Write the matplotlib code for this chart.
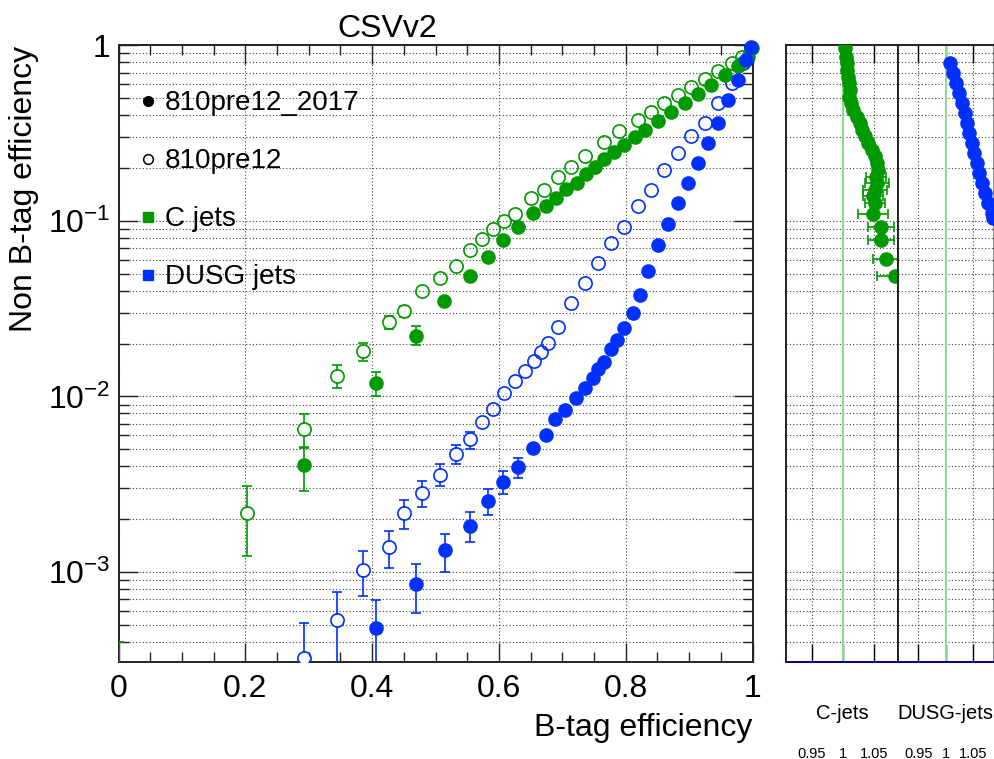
import matplotlib
matplotlib.use("Agg")
import matplotlib.pyplot as plt
from matplotlib.lines import Line2D
from matplotlib.ticker import FixedLocator, LogLocator, NullFormatter
import numpy as np

plt.rcParams['font.family'] = ['Liberation Sans', 'DejaVu Sans']
plt.rcParams['mathtext.fontset'] = 'custom'
plt.rcParams['mathtext.rm'] = 'Liberation Sans'
plt.rcParams['mathtext.it'] = 'Liberation Sans:italic'
plt.rcParams['mathtext.bf'] = 'Liberation Sans:bold'

GREEN = '#009900'
BLUE = '#0030ff'
nan = np.nan

# --- ROC curves: b-tag efficiency vs mistag efficiency ---
# C jets, 810pre12 (open)
c_old_x = [0.0, 0.2025, 0.293, 0.345, 0.385, 0.426, 0.451, 0.479, 0.507, 0.532, 0.554,
           0.573, 0.590, 0.608, 0.626, 0.650, 0.671, 0.693, 0.714, 0.735, 0.766, 0.790,
           0.819, 0.840, 0.861, 0.882, 0.903, 0.925, 0.946, 0.967, 0.983, 0.998]
c_old_y = [2.0e-4, 2.18e-3, 6.5e-3, 1.31e-2, 1.82e-2, 2.64e-2, 3.08e-2, 4.0e-2, 4.72e-2,
           5.55e-2, 6.8e-2, 7.87e-2, 8.98e-2, 0.100, 0.109, 0.135, 0.150, 0.179, 0.204,
           0.233, 0.280, 0.325, 0.378, 0.42, 0.468, 0.522, 0.580, 0.645, 0.715, 0.79,
           0.86, 0.98]
c_old_lo = [1e-5, 1.24e-3, 5.15e-3, 1.117e-2, 1.60e-2, 2.42e-2, 2.83e-2] + [nan] * 25
c_old_hi = [4.0e-4, 3.11e-3, 7.9e-3, 1.514e-2, 2.01e-2, 2.86e-2, 3.29e-2] + [nan] * 25

# C jets, 810pre12_2017 (filled)
c_new_x = [0.293, 0.406, 0.470, 0.513, 0.554, 0.583, 0.607, 0.630, 0.654, 0.675, 0.690,
           0.706, 0.723, 0.737, 0.751, 0.766, 0.782, 0.798, 0.814, 0.830, 0.851, 0.872,
           0.893, 0.914, 0.935, 0.956, 0.977, 0.993, 0.999]
c_new_y = [4.08e-3, 1.2e-2, 2.2e-2, 3.48e-2, 4.87e-2, 6.2e-2, 7.8e-2, 9.2e-2, 0.111, 0.122,
           0.135, 0.152, 0.164, 0.185, 0.204, 0.225, 0.248, 0.272, 0.30, 0.33, 0.372,
           0.42, 0.472, 0.53, 0.598, 0.675, 0.765, 0.865, 0.964]
c_new_lo = [2.88e-3, 1.01e-2, 1.97e-2] + [nan] * 26
c_new_hi = [5.08e-3, 1.38e-2, 2.51e-2] + [nan] * 26

# DUSG jets, 810pre12 (open)
l_old_x = [0.293, 0.345, 0.385, 0.426, 0.451, 0.479, 0.507, 0.532, 0.554, 0.573, 0.590,
           0.608, 0.626, 0.641, 0.656, 0.667, 0.677, 0.693, 0.714, 0.735, 0.756, 0.777,
           0.798, 0.819, 0.840, 0.861, 0.882, 0.903, 0.925, 0.946, 0.967, 0.985, 0.998]
l_old_y = [3.24e-4, 5.35e-4, 1.02e-3, 1.39e-3, 2.17e-3, 2.82e-3, 3.58e-3, 4.72e-3, 5.74e-3,
           7.11e-3, 8.47e-3, 1.05e-2, 1.22e-2, 1.39e-2, 1.6e-2, 1.8e-2, 2.01e-2, 2.5e-2,
           3.4e-2, 4.42e-2, 5.75e-2, 7.48e-2, 9.3e-2, 0.121, 0.150, 0.195, 0.243, 0.303,
           0.36, 0.469, 0.609, 0.79, 0.98]
l_old_lo = [1e-5, 2.5e-4, 7.27e-4, 1.06e-3, 1.76e-3, 2.36e-3, 3.10e-3, 4.14e-3, 5.0e-3] + [nan] * 24
l_old_hi = [5.13e-4, 7.66e-4, 1.31e-3, 1.71e-3, 2.58e-3, 3.28e-3, 4.12e-3, 5.3e-3, 6.24e-3] + [nan] * 24

# DUSG jets, 810pre12_2017 (filled)
l_new_x = [0.406, 0.470, 0.515, 0.554, 0.583, 0.606, 0.630, 0.654, 0.675, 0.688, 0.704,
           0.722, 0.735, 0.748, 0.757, 0.766, 0.777, 0.787, 0.798, 0.811, 0.822, 0.835,
           0.851, 0.866, 0.882, 0.898, 0.914, 0.930, 0.946, 0.962, 0.977, 0.990, 0.998]
l_new_y = [4.8e-4, 8.5e-4, 1.34e-3, 1.84e-3, 2.55e-3, 3.24e-3, 3.94e-3, 5.08e-3, 6.05e-3,
           7.43e-3, 8.4e-3, 9.86e-3, 1.12e-2, 1.27e-2, 1.43e-2, 1.58e-2, 1.86e-2, 2.1e-2,
           2.45e-2, 3.0e-2, 3.8e-2, 5.2e-2, 7.3e-2, 9.6e-2, 0.126, 0.164, 0.213, 0.277,
           0.36, 0.49, 0.637, 0.83, 0.98]
l_new_lo = [1e-5, 5.85e-4, 1.0e-3, 1.48e-3, 2.12e-3, 2.78e-3, 3.43e-3] + [nan] * 26
l_new_hi = [6.96e-4, 1.11e-3, 1.65e-3, 2.21e-3, 2.97e-3, 3.74e-3, 4.46e-3] + [nan] * 26

# --- ratio panels (2017 / old) ---
c_ratio = [1.0037, 1.0053, 1.0074, 1.0074, 1.009, 1.0106, 1.0117, 1.0106, 1.0128, 1.017,
           1.0225, 1.0278, 1.0305, 1.0358, 1.0412, 1.0466, 1.052, 1.0547, 1.0573, 1.0535,
           1.0547, 1.052, 1.049, 1.052, 1.049, 1.061, 1.061, 1.0696, 1.084]
c_ratio_y = [0.964, 0.863, 0.792, 0.725, 0.664, 0.609, 0.558, 0.511, 0.469, 0.430, 0.393,
             0.360, 0.330, 0.303, 0.277, 0.254, 0.233, 0.213, 0.195, 0.179, 0.164, 0.150,
             0.138, 0.126, 0.109, 0.092, 0.078, 0.061, 0.0487]
c_ratio_err = [0] * 19 + [0.016, 0.019, 0.019, 0.016, 0.016, 0.024, 0.021, 0.021, 0.021, 0.029]

l_ratio = [1.0079, 1.014, 1.020, 1.025, 1.0305, 1.0348, 1.0385, 1.0433, 1.048, 1.0525,
           1.057, 1.0617, 1.067, 1.0727, 1.078, 1.0844, 1.0873]
l_ratio_y = [0.792, 0.695, 0.609, 0.534, 0.469, 0.411, 0.360, 0.316, 0.277, 0.243, 0.213,
             0.187, 0.164, 0.144, 0.126, 0.111, 0.104]

y_ticks = [1e-3, 1e-2, 1e-1, 1]
y_tick_labels = [r'$\mathregular{10^{-3}}$', r'$\mathregular{10^{-2}}$',
                 r'$\mathregular{10^{-1}}$', '1']
ratio_ticks = [0.95, 1.0, 1.05]
ratio_tick_labels = ['0.95', '1', '1.05']

YMIN, YMAX = 3.07e-4, 1.0
GRID = dict(color='#444444', linestyle=(0, (1, 2)), linewidth=0.8)


def log_y(ax):
    ax.set_yscale('log')
    ax.set_ylim(YMIN, YMAX)
    ax.yaxis.set_major_locator(FixedLocator(y_ticks))
    ax.yaxis.set_minor_locator(LogLocator(base=10, subs=np.arange(2, 10), numticks=20))
    ax.yaxis.set_minor_formatter(NullFormatter())


def draw_series(ax, x, y, lo, hi, color, filled):
    x, y, lo, hi = map(np.asarray, (x, y, lo, hi))
    m = ~np.isnan(lo)
    ax.errorbar(x[m], y[m], yerr=[y[m] - lo[m], hi[m] - y[m]], fmt='none',
                ecolor=color, elinewidth=1.2, capsize=3.5, capthick=1.2, zorder=3)
    if filled:
        # all filled points are inside the range, let the corner one overlap the frame
        ax.plot(x, y, 'o', color=color, ms=9.5, mec=color, zorder=5, clip_on=False)
    else:
        # white disc hides the error line inside the hollow marker
        ax.plot(x[m], y[m], 'o', color='white', ms=8, mew=0, zorder=4)
        ax.plot(x, y, 'o', mfc='none', mec=color, ms=9.5, mew=1.2, zorder=5)


fig = plt.figure(figsize=(9.95, 7.59), dpi=100)
ax = fig.add_axes([0.1191, 0.1278, 0.6372, 0.8123])

draw_series(ax, c_old_x, c_old_y, c_old_lo, c_old_hi, GREEN, False)
draw_series(ax, l_old_x, l_old_y, l_old_lo, l_old_hi, BLUE, False)
draw_series(ax, c_new_x, c_new_y, c_new_lo, c_new_hi, GREEN, True)
draw_series(ax, l_new_x, l_new_y, l_new_lo, l_new_hi, BLUE, True)

ax.set_xlim(0, 1.0)
log_y(ax)
ax.set_xticks([0, 0.2, 0.4, 0.6, 0.8, 1.0])
ax.set_xticklabels(['0', '0.2', '0.4', '0.6', '0.8', '1'])
ax.xaxis.set_minor_locator(FixedLocator(np.arange(0, 1.001, 0.05)))
ax.set_yticklabels(y_tick_labels)
ax.tick_params(which='both', direction='in', top=True, right=True, width=1.0,
               labelsize=23, color='#222222')
ax.tick_params(axis='x', which='major', length=14, pad=9)
ax.tick_params(axis='y', which='major', length=14, pad=6)
ax.tick_params(which='minor', length=7)
ax.grid(True, which='major', axis='x', **GRID)
ax.grid(True, which='both', axis='y', **GRID)
for s in ax.spines.values():
    s.set_linewidth(1.4)
    s.set_color('#222222')

ax.set_xlabel('B-tag efficiency', fontsize=23, loc='right', labelpad=6)
ax.set_ylabel('Non B-tag efficiency', fontsize=23, loc='top', labelpad=6)
fig.text(387 / 995, 1 - 37 / 759, 'CSVv2', fontsize=23, ha='center', va='baseline')

handles = [
    Line2D([], [], ls='none', marker='o', color='black', ms=7),
    Line2D([], [], ls='none', marker='o', mfc='none', mec='black', ms=7, mew=1.1),
    Line2D([], [], ls='none', marker='s', color=GREEN, ms=7),
    Line2D([], [], ls='none', marker='s', color=BLUE, ms=7),
]
ax.legend(handles, ['810pre12_2017', '810pre12', 'C jets', 'DUSG jets'],
          loc='upper left', bbox_to_anchor=(0.034, 0.927), frameon=False,
          fontsize=20, handlelength=0.6, handletextpad=0.3, labelspacing=1.15,
          borderpad=0, borderaxespad=0)

# --- ratio panels ---
panels = [
    ([0.7900, 0.1278, 0.1126, 0.8123], (0.909, 1.089), 'C-jets', c_ratio, c_ratio_y,
     c_ratio_err, GREEN),
    ([0.9025, 0.1278, 0.0960, 0.8123], (0.9125, 1.088), 'DUSG-jets', l_ratio, l_ratio_y,
     [0] * len(l_ratio), BLUE),
]
for rect, xlim, label, rx, ry, rerr, col in panels:
    rax = fig.add_axes(rect)
    log_y(rax)
    rax.set_xlim(*xlim)
    rax.set_xticks(ratio_ticks)
    rax.set_xticklabels(ratio_tick_labels)
    rax.tick_params(axis='x', which='major', direction='in', top=True, length=13,
                    width=1.0, pad=61, labelsize=10.5)
    rax.tick_params(axis='y', which='both', direction='in', length=0, labelleft=False)
    rax.grid(True, which='major', axis='x', **GRID)
    rax.grid(True, which='both', axis='y', **GRID)
    rax.axvline(1.0, color='#8fdc8f', lw=1.4, zorder=2)
    rerr = np.asarray(rerr, dtype=float)
    m = rerr > 0
    rax.errorbar(np.asarray(rx)[m], np.asarray(ry)[m], xerr=rerr[m], fmt='none',
                 ecolor=col, elinewidth=1.2, capsize=3.5, capthick=1.2, zorder=3)
    rax.plot(rx, ry, 'o', color=col, ms=9.5, zorder=5)
    for s in rax.spines.values():
        s.set_linewidth(1.4)
        s.set_color('#222222')
    rax.spines['bottom'].set_color('#000080')
    rax.text(0.5, -0.083, label, transform=rax.transAxes, ha='center', va='center',
             fontsize=14.5)
    if label == 'DUSG-jets':
        rax.spines['right'].set_color('#888888')

fig.savefig('out.png', dpi=100)
